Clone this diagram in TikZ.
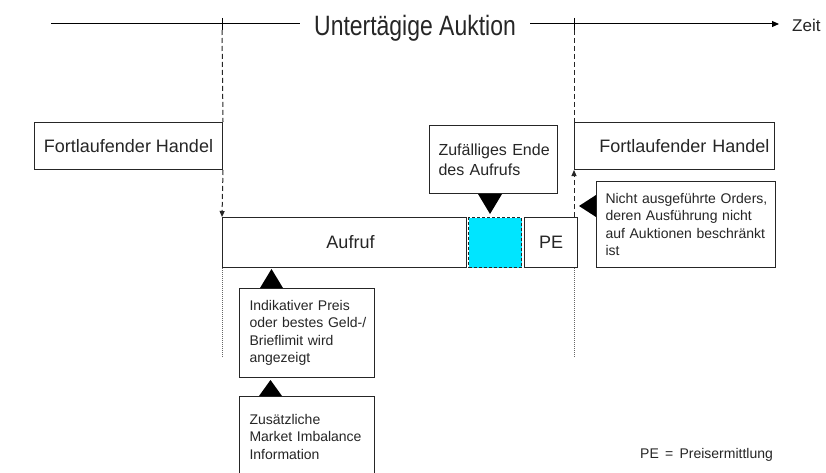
\documentclass[tikz,border=0pt]{standalone}
\usepackage{fontspec}
\setmainfont{Liberation Sans}
\newfontfamily\narrowfont[FakeStretch=0.82]{Liberation Sans}
\usetikzlibrary{arrows.meta,calc}
\definecolor{auctcyan}{RGB}{0,229,255}
\tikzset{
  box/.style={draw=black!85, line width=1pt, rectangle, inner ysep=0pt, anchor=north west, text=black!85},
  bigtxt/.style={font=\fontsize{18pt}{21pt}\selectfont},
  smalltxt/.style={font=\fontsize{14pt}{17.5pt}\selectfont, align=left},
  midtxt/.style={font=\fontsize{16pt}{20pt}\selectfont, align=left},
  vdash/.style={draw=black!85, line width=1pt, dash pattern=on 5pt off 3pt},
  vdot/.style={draw=black!60, line width=1pt, dash pattern=on 1pt off 1pt},
  smallhead/.style={-{Triangle[length=6pt,width=5pt]}},
  pointer/.style={fill=black}
}
\begin{document}
\begin{tikzpicture}[x=1pt,y=-1pt]
\clip (0,0) rectangle (826,473);
\fill[white] (0,0) rectangle (826,473);

% time axis
\coordinate (axstart) at (51,24);
\node[font=\narrowfont\fontsize{28pt}{30pt}\selectfont, text=black!85, anchor=base, inner xsep=14pt, inner ysep=0pt] (title) at (415,36) {Untertägige Auktion};
\node[font=\fontsize{17pt}{19pt}\selectfont, text=black!85, anchor=base west, inner sep=0pt] (zeit) at (792,32) {Zeit};
\draw[line width=1pt] (axstart) -- (title.west |- axstart);
\draw[line width=1pt, -{Triangle[length=7pt,width=6pt]}] (title.east |- axstart) -- ($(zeit.west |- axstart)+(-13,0)$);

% boxes
\node[box, bigtxt, minimum width=188pt, minimum height=47pt] (fh1) at (34,122) {Fortlaufender Handel};
\node[box, bigtxt, text width=190pt, align=right, inner xsep=5pt, minimum height=47pt] (fh2) at (574,122) {Fortlaufender Handel};
\node[box, bigtxt, minimum width=244pt, minimum height=50pt] (auf) at (222,217) {\hspace*{12pt}Aufruf};
\node[box, fill=auctcyan, dash pattern=on 3pt off 2pt, minimum width=53pt, minimum height=50pt] (cyan) at (468,217) {};
\node[box, bigtxt, minimum width=53pt, minimum height=50pt] (pe) at (524,217) {PE};
\node[box, midtxt, text width=110pt, inner xsep=9pt, minimum height=68pt] (zuf) at (429,125) {\mbox{Zufälliges Ende}\\des Aufrufs};
\node[box, smalltxt, text width=161pt, inner xsep=9pt, minimum height=86pt] (nicht) at (596,181) {\mbox{Nicht ausgeführte Orders,}\\\mbox{deren Ausführung nicht}\\\mbox{auf Auktionen beschränkt}\\ist};
\node[box, smalltxt, text width=115pt, inner xsep=10pt, minimum height=89pt] (ind) at (239,288) {\mbox{Indikativer Preis}\\\mbox{oder bestes Geld-/}\\\mbox{Brieflimit wird}\\angezeigt};
\node[box, smalltxt, text width=115pt, inner xsep=10pt, minimum height=80pt] (zus) at (239,396) {Zusätzliche\\\mbox{Market Imbalance}\\Information};

\node[font=\fontsize{14pt}{16pt}\selectfont, text=black!85, anchor=base west, inner sep=0pt] (legend) at (640,458) {PE \,=\, Preisermittlung};

% left vertical marker
\coordinate (lt1) at (222,18);
\coordinate (lt2) at (222,30);
\coordinate (lend) at (222,358);
\draw[line width=1pt] (lt1) -- (lt2);
\draw[vdash] (lt2) -- (fh1.north east);
\draw[vdash, smallhead] (fh1.south east) -- (auf.north west);
\draw[vdot] (auf.south west) -- (lend);

% right vertical marker
\coordinate (rt1) at (574,18);
\coordinate (rt2) at (574,30);
\coordinate (rend) at (574,358);
\draw[line width=1pt] (rt1) -- (rt2);
\draw[vdash] (rt2) -- (fh2.north west);
\draw[vdash, smallhead] (fh2.south west |- pe.north) -- (fh2.south west);
\draw[vdot] (fh2.south west |- pe.south) -- (rend);

% pointer triangles
\fill[pointer] (zuf.south west) ++(49,0) -- ++(24,0) -- ++(-12,20) -- cycle;
\fill[pointer] (nicht.north west) ++(0,14) -- ++(0,22) -- ++(-17,-11) -- cycle;
\fill[pointer] (ind.north west) ++(21,0) -- ++(23,0) -- ++(-11.5,-19) -- cycle;
\fill[pointer] (zus.north west) ++(20,0) -- ++(23,0) -- ++(-11.5,-16) -- cycle;
\end{tikzpicture}
\end{document}
